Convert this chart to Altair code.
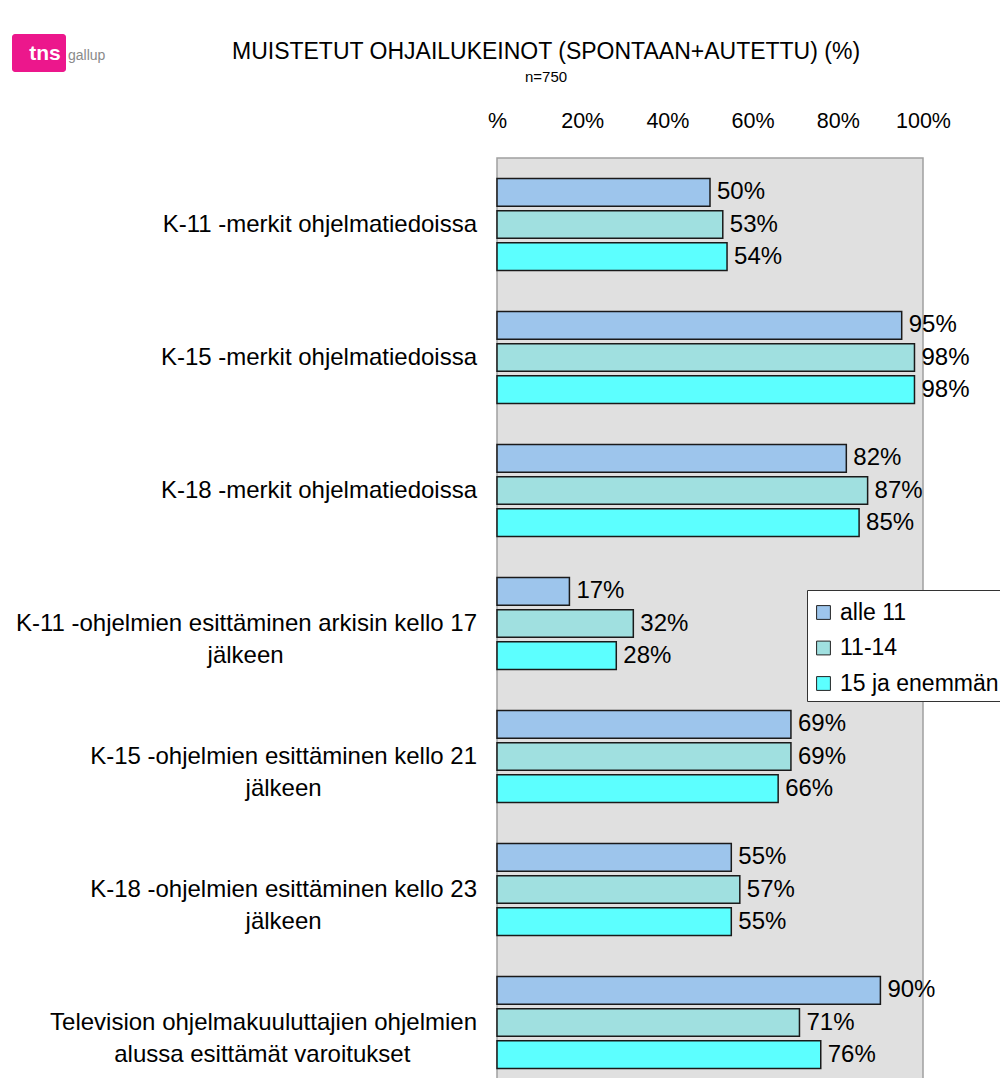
import altair as alt
import pandas as pd

categories = [
    "K-11 -merkit ohjelmatiedoissa",
    "K-15 -merkit ohjelmatiedoissa",
    "K-18 -merkit ohjelmatiedoissa",
    "K-11 -ohjelmien esittäminen arkisin kello 17 jälkeen",
    "K-15 -ohjelmien esittäminen kello 21 jälkeen",
    "K-18 -ohjelmien esittäminen kello 23 jälkeen",
    "Television ohjelmakuuluttajien ohjelmien alussa esittämät varoitukset",
]
label_line1 = [
    "K-11 -merkit ohjelmatiedoissa",
    "K-15 -merkit ohjelmatiedoissa",
    "K-18 -merkit ohjelmatiedoissa",
    "K-11 -ohjelmien esittäminen arkisin kello 17",
    "K-15 -ohjelmien esittäminen kello 21",
    "K-18 -ohjelmien esittäminen kello 23",
    "Television ohjelmakuuluttajien ohjelmien",
]
label_line2 = ["", "", "", "jälkeen", "jälkeen", "jälkeen", "alussa esittämät varoitukset"]

series = ["alle 11", "11-14", "15 ja enemmän"]
vals_alle11 = [50, 95, 82, 17, 69, 55, 90]
vals_11_14 = [53, 98, 87, 32, 69, 57, 71]
vals_15plus = [54, 98, 85, 28, 66, 55, 76]
colors = ["#9DC5EC", "#A0E0E0", "#5CFFFF"]

x_ticks = [0, 20, 40, 60, 80, 100]

title_text = "MUISTETUT OHJAILUKEINOT (SPONTAAN+AUTETTU) (%)"
subtitle_text = "n=750"

FONT = "Liberation Sans"
LABEL_SIZE = 24

# Arial / Liberation Sans advance widths (1/1000 em) for centring wrapped lines
W = {c: 556 for c in "abdeghnopquä0123456789"}
W.update({"c": 500, "f": 278, "i": 222, "j": 222, "k": 500, "l": 222, "m": 833,
          "r": 333, "s": 500, "t": 278, "v": 500, "w": 722, "x": 500, "y": 500,
          "z": 500, " ": 278, "-": 333, "K": 667, "T": 611})


def text_width(s, size):
    return sum(W.get(ch, 556) for ch in s) * size / 1000.0


rows = []
for i, c in enumerate(categories):
    for s, vals in zip(series, [vals_alle11, vals_11_14, vals_15plus]):
        rows.append({"cat": c, "series": s, "value": vals[i], "label": f"{vals[i]}%"})
df = pd.DataFrame(rows)

lab_rows = []
for c, l1, l2 in zip(categories, label_line1, label_line2):
    lab_rows.append({
        "cat": c,
        "t1": l1 + ("\n " if l2 else ""),
        "t2": (" \n" + l2) if l2 else "",
        "cx": -20 - text_width(l1, LABEL_SIZE) / 2.0,
    })
labdf = pd.DataFrame(lab_rows)

yscale = alt.Scale(domain=categories, range=[0, 931], paddingInner=0.308, paddingOuter=0.154)
y_enc = alt.Y("cat:N", sort=categories, scale=yscale, axis=None)
yoff_enc = alt.YOffset("series:N", sort=series,
                       scale=alt.Scale(domain=series, paddingInner=0.14, paddingOuter=0))

one = pd.DataFrame({"k": [0]})

background = alt.Chart(one).mark_rect(fill="#E0E0E0", stroke="#A0A0A0", strokeWidth=1.5).encode(
    x=alt.value(0), x2=alt.value(426), y=alt.value(0), y2=alt.value(990)
)

bars = alt.Chart(df).mark_bar(stroke="#1a1a1a", strokeWidth=1.5).encode(
    x=alt.X("value:Q", scale=alt.Scale(domain=[0, 100]),
            axis=alt.Axis(orient="top", values=x_ticks, title=None, ticks=False, tickSize=0,
                          domain=False, grid=False, labelPadding=26, labelFontSize=21.5,
                          labelColor="#000", labelFont=FONT, labelFlush=False,
                          labelExpr="datum.value == 0 ? '%' : datum.value + '%'")),
    y=y_enc,
    yOffset=yoff_enc,
    color=alt.Color("series:N", sort=series,
                    scale=alt.Scale(domain=series, range=colors),
                    legend=alt.Legend(orient="none", legendX=310, legendY=432, title=" ",
                                      titleFontSize=1, titlePadding=5,
                                      fillColor="white", strokeColor="#333333", padding=5,
                                      symbolType="square", symbolSize=190,
                                      symbolStrokeColor="#222", symbolStrokeWidth=1,
                                      symbolOpacity=1,
                                      labelFontSize=23, labelFont=FONT, labelColor="#000",
                                      rowPadding=11.5, labelOffset=5, labelLimit=400)),
)

values = alt.Chart(df).mark_text(align="left", baseline="middle", dx=7, fontSize=24,
                                 font=FONT, color="#000").encode(
    x="value:Q", y=y_enc, yOffset=yoff_enc, text="label:N"
)

cat_line1 = alt.Chart(labdf).mark_text(align="right", baseline="middle", fontSize=LABEL_SIZE,
                                       font=FONT, color="#000", lineBreak="\n",
                                       lineHeight=32).encode(
    x=alt.value(-20), y=y_enc, text="t1:N"
)
cat_line2 = alt.Chart(labdf).transform_filter("datum.t2 != ''").mark_text(
    align="center", baseline="middle", fontSize=LABEL_SIZE, font=FONT, color="#000",
    lineBreak="\n", lineHeight=32).encode(
    x=alt.X("cx:Q", scale=None), y=y_enc, text="t2:N"
)

title = alt.Chart(one).mark_text(align="center", baseline="middle", fontSize=23, font=FONT,
                                 color="#000").encode(
    x=alt.value(49), y=alt.value(-106), text=alt.value(title_text)
)
subtitle = alt.Chart(one).mark_text(align="center", baseline="middle", fontSize=15, font=FONT,
                                    color="#000").encode(
    x=alt.value(49), y=alt.value(-81), text=alt.value(subtitle_text)
)

logo_box = alt.Chart(one).mark_rect(fill="#EC178C", cornerRadius=3).encode(
    x=alt.value(-485), x2=alt.value(-431), y=alt.value(-124), y2=alt.value(-86)
)
logo_tns = alt.Chart(one).mark_text(align="center", baseline="middle", fontSize=21,
                                    fontWeight="bold", font=FONT, color="white").encode(
    x=alt.value(-452), y=alt.value(-104), text=alt.value("tns")
)
logo_gallup = alt.Chart(one).mark_text(align="left", baseline="middle", fontSize=14,
                                       font=FONT, color="#8a8a8a").encode(
    x=alt.value(-429), y=alt.value(-102), text=alt.value("gallup")
)

chart = alt.layer(
    background, bars, values, cat_line1, cat_line2, title, subtitle,
    logo_box, logo_tns, logo_gallup
).properties(
    width=426, height=920,
    autosize=alt.AutoSizeParams(type="none"),
    padding={"left": 489, "top": 150, "right": 77, "bottom": 0},
).configure(font=FONT).configure_view(stroke=None, fill=None)

chart.save("out.html", embed_options={"renderer": "svg", "actions": False})
